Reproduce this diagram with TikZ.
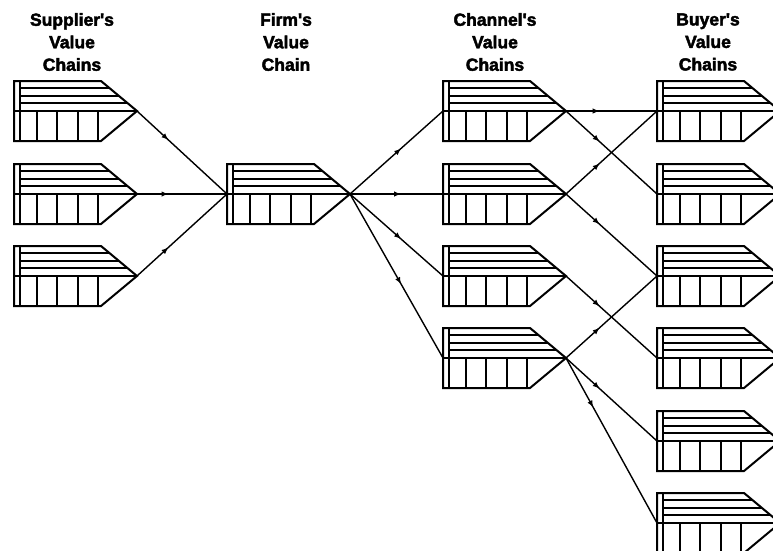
\documentclass[tikz,border=0pt]{standalone}
\usepackage{fontspec}
\setmainfont{Liberation Sans}[BoldFeatures={FakeBold=2.5}]
\usetikzlibrary{decorations.markings,arrows.meta}

\tikzset{
  link/.style={line width=1.4pt, postaction={decorate},
    decoration={markings, mark=at position #1 with {\arrow{Latex[length=7pt,width=5.5pt]}}}},
  link/.default=0.4,
  title/.style={font=\fontsize{17.5}{22.5}\selectfont\bfseries, align=center},
  valuechain/.pic={
    \draw[line width=2pt] (0,0) -- (87,0) -- (123,30) -- (87,60) -- (0,60) -- cycle;
    \draw[line width=1.6pt] (6,0) -- (6,60);
    \foreach \yy in {7,15,22} \draw[line width=1.4pt] (6,\yy) -- ({87+36*\yy/30},\yy);
    \draw[line width=2.2pt] (0,30) -- (123,30);
    \foreach \xx in {23,43,64,84} \draw[line width=1.6pt] (\xx,30) -- (\xx,60);
    \coordinate (-in) at (0,30);
    \coordinate (-out) at (123,30);
  }
}

\begin{document}
\begin{tikzpicture}[x=1pt,y=-1pt]
\useasboundingbox (0,0) rectangle (773,550);
\clip (0,0) rectangle (773,550);

% titles
\node[title] (tsup) at (72,42) {Supplier\textquotesingle s\\Value\\Chains};
\node[title] (tfirm) at (286,42) {Firm\textquotesingle s\\Value\\Chain};
\node[title] (tchan) at (495,42) {Channel\textquotesingle s\\Value\\Chains};
\node[title] (tbuy) at (708,42) {Buyer\textquotesingle s\\Value\\Chains};

% supplier chains
\pic (s1) at (14,81) {valuechain};
\pic (s2) at (14,164) {valuechain};
\pic (s3) at (14,246) {valuechain};
% firm
\pic (f) at (227,164) {valuechain};
% channels
\pic (c1) at (443,81) {valuechain};
\pic (c2) at (443,164) {valuechain};
\pic (c3) at (443,246) {valuechain};
\pic (c4) at (443,328) {valuechain};
% buyers
\pic (b1) at (657,81) {valuechain};
\pic (b2) at (657,164) {valuechain};
\pic (b3) at (657,246) {valuechain};
\pic (b4) at (657,328) {valuechain};
\pic (b5) at (657,411) {valuechain};
\pic (b6) at (657,493) {valuechain};

% connectors
\draw[link=0.35] (s1-out) -- (f-in);
\draw[link=0.35] (s2-out) -- (f-in);
\draw[link=0.35] (s3-out) -- (f-in);

\draw[link=0.55] (f-out) -- (c1-in);
\draw[link=0.55] (f-out) -- (c2-in);
\draw[link=0.55] (f-out) -- (c3-in);
\draw[link=0.55] (f-out) -- (c4-in);

\draw[link=0.37] (c1-out) -- (b1-in);
\draw[link=0.37] (c1-out) -- (b2-in);
\draw[link=0.37] (c2-out) -- (b1-in);
\draw[link=0.37] (c2-out) -- (b3-in);
\draw[link=0.37] (c3-out) -- (b4-in);
\draw[link=0.37] (c4-out) -- (b3-in);
\draw[link=0.37] (c4-out) -- (b5-in);
\draw[link=0.3] (c4-out) -- (b6-in);
\end{tikzpicture}
\end{document}
